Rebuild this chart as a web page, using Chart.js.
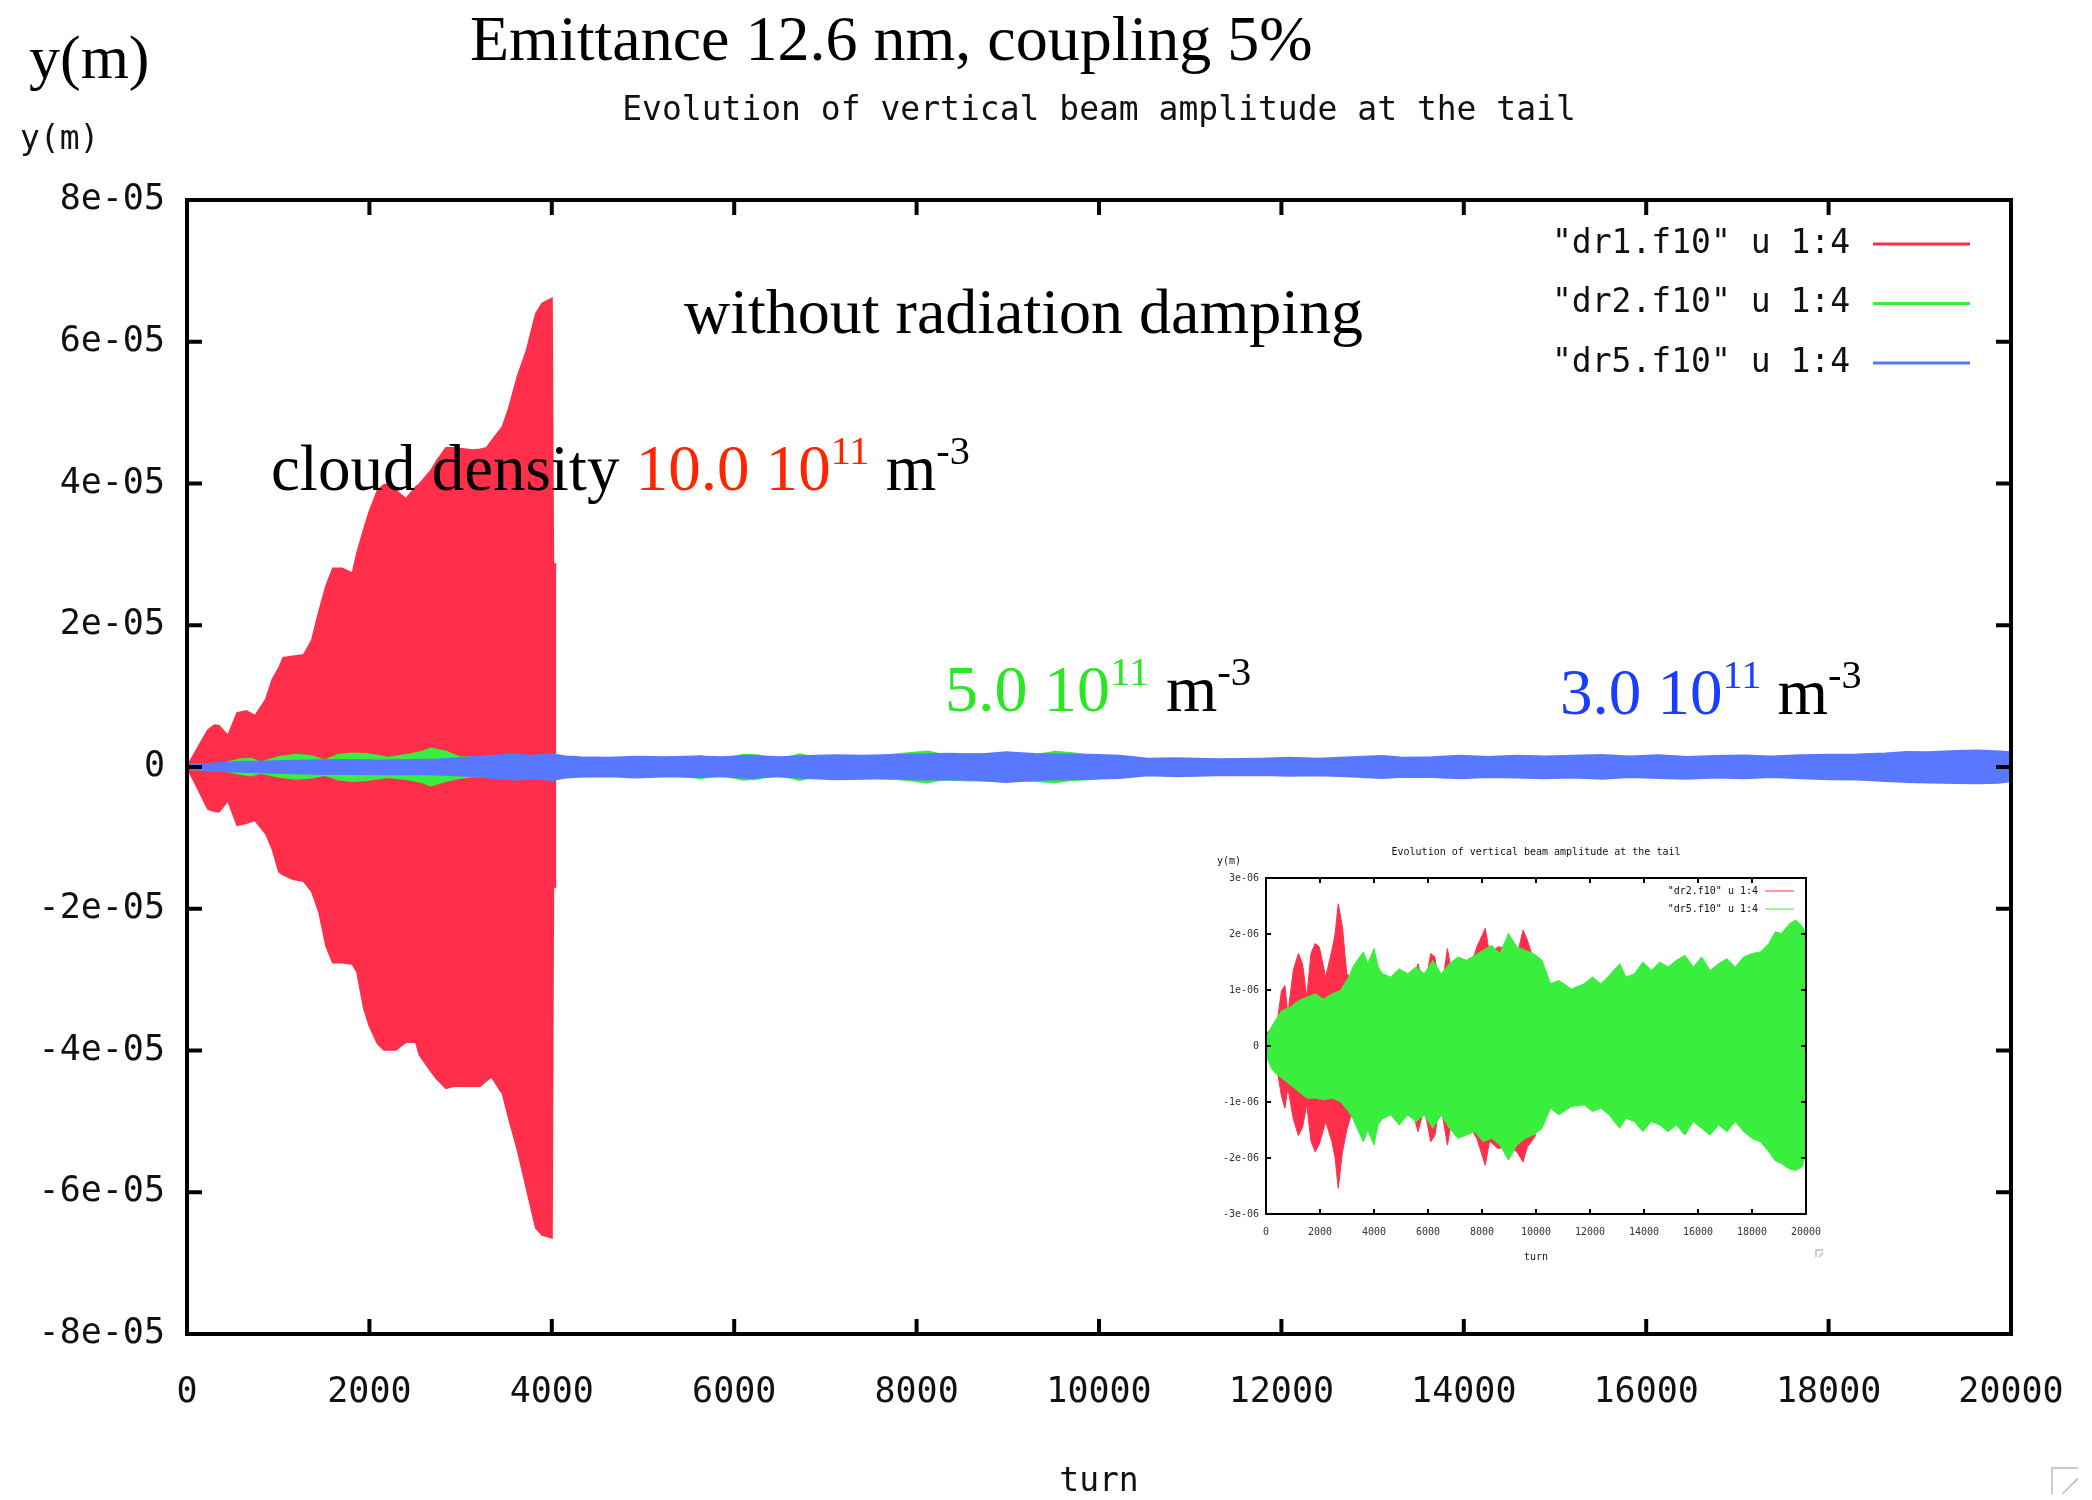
<!DOCTYPE html>
<html>
<head>
<meta charset="utf-8">
<script src="https://cdn.jsdelivr.net/npm/chart.js@4.4.1/dist/chart.umd.min.js"></script>
<style>
  html, body { margin: 0; padding: 0; background: #fff; }
  #main { position: absolute; left: 0; top: 0; }
  #inset { position: absolute; left: 1180px; top: 820px; }
</style>
</head>
<body>
<canvas id="main" width="2092" height="1500"></canvas>
<canvas id="inset" width="680" height="470"></canvas>
<script>
// axis ticks
const xTickValues = [0, 2000, 4000, 6000, 8000, 10000, 12000, 14000, 16000, 18000, 20000];
const xTickLabels = ['0', '2000', '4000', '6000', '8000', '10000', '12000', '14000', '16000', '18000', '20000'];
const yTickValues = [-8e-5, -6e-5, -4e-5, -2e-5, 0, 2e-5, 4e-5, 6e-5, 8e-5];
const yTickLabels = ['-8e-05', '-6e-05', '-4e-05', '-2e-05', '0', '2e-05', '4e-05', '6e-05', '8e-05'];
const insetYTickValues = [-3e-6, -2e-6, -1e-6, 0, 1e-6, 2e-6, 3e-6];
const insetYTickLabels = ['-3e-06', '-2e-06', '-1e-06', '0', '1e-06', '2e-06', '3e-06'];

// envelopes of y (micrometres)
// dr1: 10.0e11 m^-3
const dr1Turns = [0, 110, 230, 300, 350, 450, 550, 650, 745, 865, 935, 1010, 1055, 1160, 1280, 1370, 1450, 1525, 1600, 1700, 1815, 1865, 1940, 2000, 2090, 2160, 2205, 2290, 2400, 2510, 2550, 2675, 2740, 2840, 2925, 3135, 3215, 3285, 3340, 3430, 3460, 3530, 3625, 3725, 3825, 3895, 4000, 4015, 4050];
const dr1Upper = [0, 2.5, 5.2, 5.9, 5.8, 4.4, 7.6, 7.9, 7.2, 9.5, 12.3, 14.0, 15.4, 15.6, 15.8, 17.9, 22.0, 25.5, 28.0, 28.0, 27.3, 30.2, 33.5, 36.0, 39.0, 39.8, 39.9, 39.0, 37.8, 39.5, 39.9, 41.8, 43.2, 45.0, 45.0, 44.7, 44.8, 45.0, 46.0, 47.5, 48.0, 50.6, 55.1, 58.8, 63.9, 65.4, 66.1, 28.6, 28.6];
const dr1Lower = [0, -2.8, -5.9, -6.2, -6.3, -4.7, -8.2, -7.9, -7.5, -9.4, -11.5, -14.8, -15.2, -15.8, -16.1, -17.6, -20.5, -25.2, -27.6, -27.6, -27.8, -28.9, -34.0, -36.5, -39.0, -39.9, -39.9, -39.9, -38.8, -38.8, -40.6, -42.9, -44.0, -45.3, -45.0, -45.0, -45.0, -44.2, -43.7, -45.5, -46.0, -49.6, -54.0, -59.5, -65.0, -66.0, -66.4, -16.9, -16.9];

// dr2: 5.0e11 m^-3
const dr2Turns = [0, 110, 265, 420, 575, 700, 810, 1010, 1200, 1355, 1510, 1665, 1820, 1975, 2210, 2440, 2560, 2675, 2830, 2990, 3145, 3400, 3700, 4000, 4300, 4620, 5090, 5400, 5630, 5865, 6100, 6255, 6410, 6560, 6720, 6880, 7265, 7500, 7810, 8120, 8280, 8590, 8980, 9290, 9520, 9680, 9835, 9990];
const dr2Upper = [0.21, 0.27, 0.20, 0.45, 0.99, 1.08, 0.57, 1.35, 1.65, 1.47, 0.87, 1.65, 1.83, 1.77, 1.23, 1.71, 2.00, 2.54, 2.13, 1.29, 1.23, 1.20, 1.30, 1.35, 1.10, 1.00, 1.32, 1.10, 1.47, 1.00, 1.65, 1.59, 1.05, 1.20, 1.74, 1.29, 1.47, 1.30, 1.77, 2.10, 1.65, 1.77, 1.75, 1.60, 2.07, 1.89, 1.65, 1.59];
const dr2Lower = [-0.15, -0.27, -0.20, -0.45, -0.90, -1.11, -0.75, -1.30, -1.60, -1.45, -1.05, -1.70, -1.89, -1.75, -1.35, -1.71, -2.00, -2.54, -1.90, -1.50, -1.25, -1.20, -1.30, -1.40, -1.10, -1.00, -1.30, -1.10, -1.53, -1.10, -1.71, -1.60, -1.10, -1.30, -1.77, -1.30, -1.50, -1.40, -1.65, -2.13, -1.70, -1.83, -1.80, -1.89, -2.07, -1.80, -1.71, -1.59];

// dr5: 3.0e11 m^-3
const dr5Turns = [0, 190, 340, 575, 890, 1200, 1510, 1820, 2130, 2440, 2750, 3065, 3220, 3375, 3610, 3765, 4000, 4155, 4310, 4620, 4930, 5245, 5555, 5865, 6175, 6490, 6800, 7110, 7420, 7735, 8045, 8355, 8665, 8980, 9290, 9600, 9910, 10225, 10535, 10845, 11310, 11780, 12090, 12400, 12710, 13100, 13335, 13645, 13960, 14270, 14580, 14890, 15200, 15515, 15825, 16135, 16445, 16760, 17070, 17380, 17690, 18005, 18315, 18625, 18860, 19090, 19405, 19635, 19870, 20000];
const dr5Upper = [0.15, 0.33, 0.45, 0.63, 0.69, 0.81, 0.87, 0.93, 0.84, 0.93, 0.99, 1.23, 1.41, 1.53, 1.68, 1.47, 1.74, 1.41, 1.29, 1.23, 1.38, 1.29, 1.41, 1.29, 1.53, 1.29, 1.47, 1.59, 1.53, 1.62, 1.71, 1.80, 1.65, 2.01, 1.77, 1.71, 1.65, 1.53, 1.11, 1.17, 1.02, 1.11, 1.23, 1.11, 1.26, 1.47, 1.23, 1.29, 1.50, 1.35, 1.50, 1.41, 1.53, 1.62, 1.41, 1.59, 1.35, 1.47, 1.56, 1.41, 1.59, 1.65, 1.68, 1.83, 2.04, 2.01, 2.19, 2.25, 2.13, 2.01];
const dr5Lower = [-0.15, -0.39, -0.48, -0.57, -0.69, -0.81, -0.93, -0.93, -0.96, -0.93, -0.99, -1.17, -1.30, -1.47, -1.71, -1.50, -1.77, -1.40, -1.30, -1.23, -1.41, -1.23, -1.35, -1.23, -1.47, -1.23, -1.47, -1.65, -1.59, -1.53, -1.71, -1.65, -1.77, -2.04, -1.77, -1.65, -1.59, -1.47, -1.11, -1.23, -1.08, -1.05, -1.17, -1.11, -1.23, -1.47, -1.29, -1.35, -1.53, -1.35, -1.41, -1.53, -1.41, -1.59, -1.35, -1.47, -1.59, -1.41, -1.53, -1.35, -1.53, -1.65, -1.71, -1.89, -2.05, -2.10, -2.20, -2.22, -2.15, -1.89];

const RED = '#ff2f4b';
const GREEN = '#39ee3d';
const BLUE = '#5878ff';
const MONO = '"DejaVu Sans Mono", monospace';
const SERIF = '"Liberation Serif", "Times New Roman", serif';

const toPoints = (turns, vals) => turns.map((t, i) => ({ x: t, y: vals[i] * 1e-6 }));

// one filled band = upper line filled down to the lower line
const band = (label, turns, upper, lower, color, order, width) => [
    { label: label, data: toPoints(turns, upper), borderColor: color, backgroundColor: color,
      borderWidth: width, fill: '+1', order: order, pointRadius: 0 },
    { label: '', data: toPoints(turns, lower), borderColor: color, backgroundColor: color,
      borderWidth: width, fill: false, order: order, pointRadius: 0 }
];

// draw text with superscripts
function drawRuns(ctx, x, y, size, runs) {
    ctx.textBaseline = 'alphabetic';
    ctx.textAlign = 'left';
    runs.forEach(r => {
        const s = r.sup ? size * 0.62 : size;
        ctx.font = s + 'px ' + SERIF;
        ctx.fillStyle = r.color || '#000';
        ctx.fillText(r.text, x, r.sup ? y - size * 0.40 : y);
        x += ctx.measureText(r.text).width;
    });
}

// small grey resize mark in a corner
function cornerMark(ctx, x, y, s) {
    ctx.strokeStyle = '#bbb';
    ctx.lineWidth = 1.5;
    ctx.beginPath();
    ctx.moveTo(x, y + s); ctx.lineTo(x, y); ctx.lineTo(x + s, y);
    ctx.moveTo(x + s * 0.4, y + s); ctx.lineTo(x + s, y + s * 0.4);
    ctx.stroke();
}

// gnuplot style frame, inward ticks, legend and loose text
function gnuplotFrame(cfg) {
    return {
        id: 'gnuplotFrame',
        afterDatasetsDraw(chart) {
            const ctx = chart.ctx;
            const a = chart.chartArea;
            const xs = chart.scales.x, ys = chart.scales.y;
            ctx.save();
            ctx.strokeStyle = '#000';
            ctx.lineWidth = cfg.border;
            ctx.strokeRect(a.left, a.top, a.right - a.left, a.bottom - a.top);
            ctx.lineWidth = cfg.tickWidth;
            ctx.beginPath();
            xs.ticks.forEach(t => {
                const px = xs.getPixelForValue(t.value);
                ctx.moveTo(px, a.bottom); ctx.lineTo(px, a.bottom - cfg.tickLen);
                ctx.moveTo(px, a.top); ctx.lineTo(px, a.top + cfg.tickLen);
            });
            ys.ticks.forEach(t => {
                const py = ys.getPixelForValue(t.value);
                ctx.moveTo(a.left, py); ctx.lineTo(a.left + cfg.tickLen, py);
                ctx.moveTo(a.right, py); ctx.lineTo(a.right - cfg.tickLen, py);
            });
            ctx.stroke();

            // legend
            ctx.font = cfg.font + 'px ' + MONO;
            ctx.textAlign = 'right';
            ctx.textBaseline = 'middle';
            let row = 0;
            chart.data.datasets.forEach(ds => {
                if (!ds.label) return;
                const y = cfg.legend.y + row * cfg.legend.step;
                ctx.fillStyle = '#111';
                ctx.fillText(ds.label, cfg.legend.textRight, y);
                ctx.strokeStyle = ds.borderColor;
                ctx.lineWidth = cfg.legend.lineWidth;
                ctx.beginPath();
                ctx.moveTo(cfg.legend.x0, y); ctx.lineTo(cfg.legend.x1, y);
                ctx.stroke();
                row++;
            });

            // titles
            ctx.fillStyle = '#111';
            ctx.textAlign = 'center';
            ctx.fillText(cfg.title, (a.left + a.right) / 2, cfg.titleY);
            ctx.fillText('turn', (a.left + a.right) / 2, cfg.turnY);
            ctx.textAlign = 'left';
            ctx.fillText('y(m)', cfg.ymX, cfg.ymY);
            if (cfg.extra) cfg.extra(ctx);
            ctx.restore();
        }
    };
}

const mainTickFont = { family: MONO, size: 35 };
const insetTickFont = { family: MONO, size: 10 };

// keep the plot box where the layout padding puts it
const noLabelOverhang = s => { s.paddingLeft = 0; s.paddingRight = 0; };

// main chart
new Chart(document.getElementById('main').getContext('2d'), {
    type: 'line',
    data: {
        datasets: [
            ...band('"dr1.f10" u 1:4', dr1Turns, dr1Upper, dr1Lower, RED, 3, 2),
            ...band('"dr2.f10" u 1:4', dr2Turns, dr2Upper, dr2Lower, GREEN, 2, 3),
            ...band('"dr5.f10" u 1:4', dr5Turns, dr5Upper, dr5Lower, BLUE, 1, 3)
        ]
    },
    options: {
        responsive: false,
        animation: false,
        devicePixelRatio: 1,
        layout: { padding: { top: 200, right: 81, left: 0, bottom: 0 } },
        plugins: { legend: { display: false }, tooltip: { enabled: false }, title: { display: false } },
        elements: { line: { tension: 0 } },
        scales: {
            x: {
                type: 'linear', min: 0, max: 20000,
                afterBuildTicks: s => { s.ticks = xTickValues.map(v => ({ value: v })); },
                afterFit: s => { s.height = 166; noLabelOverhang(s); },
                grid: { display: false, drawTicks: false },
                border: { display: false },
                ticks: { callback: (v, i) => xTickLabels[i], font: mainTickFont, color: '#111',
                         padding: 38, maxRotation: 0, autoSkip: false }
            },
            y: {
                type: 'linear', min: -8e-5, max: 8e-5,
                afterBuildTicks: s => { s.ticks = yTickValues.map(v => ({ value: v })); },
                afterFit: s => { s.width = 187; },
                grid: { display: false, drawTicks: false },
                border: { display: false },
                ticks: { callback: (v, i) => yTickLabels[i], font: mainTickFont, color: '#111',
                         padding: 22, autoSkip: false }
            }
        }
    },
    plugins: [gnuplotFrame({
        border: 4, tickWidth: 4, tickLen: 15, font: 33,
        title: 'Evolution of vertical beam amplitude at the tail', titleY: 111, turnY: 1482,
        ymX: 20, ymY: 140,
        legend: { y: 244, step: 59.5, textRight: 1850, x0: 1873, x1: 1970, lineWidth: 3 },
        extra: ctx => {
            drawRuns(ctx, 29, 78, 62, [{ text: 'y(m)' }]);
            drawRuns(ctx, 470, 60, 64, [{ text: 'Emittance 12.6 nm, coupling 5%' }]);
            drawRuns(ctx, 684, 333, 64, [{ text: 'without radiation damping' }]);
            drawRuns(ctx, 271, 490, 65, [
                { text: 'cloud density ' }, { text: '10.0 10', color: '#ff2400' },
                { text: '11', color: '#ff2400', sup: true }, { text: ' m' }, { text: '-3', sup: true }
            ]);
            drawRuns(ctx, 945, 711, 66, [
                { text: '5.0 10', color: '#2be625' }, { text: '11', color: '#2be625', sup: true },
                { text: ' m' }, { text: '-3', sup: true }
            ]);
            drawRuns(ctx, 1560, 714, 65, [
                { text: '3.0 10', color: '#1a3dff' }, { text: '11', color: '#1a3dff', sup: true },
                { text: ' m' }, { text: '-3', sup: true }
            ]);
            cornerMark(ctx, 2052, 1468, 26);
        }
    })]
});

// inset chart: dr2 and dr5 without the large cloud
new Chart(document.getElementById('inset').getContext('2d'), {
    type: 'line',
    data: {
        datasets: [
            ...band('"dr2.f10" u 1:4', dr2Turns, dr2Upper, dr2Lower, RED, 2, 1),
            ...band('"dr5.f10" u 1:4', dr5Turns, dr5Upper, dr5Lower, GREEN, 1, 1)
        ]
    },
    options: {
        responsive: false,
        animation: false,
        devicePixelRatio: 1,
        layout: { padding: { top: 58, right: 54, left: 0, bottom: 0 } },
        plugins: { legend: { display: false }, tooltip: { enabled: false }, title: { display: false } },
        elements: { line: { tension: 0 } },
        scales: {
            x: {
                type: 'linear', min: 0, max: 20000,
                afterBuildTicks: s => { s.ticks = xTickValues.map(v => ({ value: v })); },
                afterFit: s => { s.height = 76; noLabelOverhang(s); },
                grid: { display: false, drawTicks: false },
                border: { display: false },
                ticks: { callback: (v, i) => xTickLabels[i], font: insetTickFont, color: '#333',
                         padding: 12, maxRotation: 0, autoSkip: false }
            },
            y: {
                type: 'linear', min: -3e-6, max: 3e-6,
                afterBuildTicks: s => { s.ticks = insetYTickValues.map(v => ({ value: v })); },
                afterFit: s => { s.width = 86; },
                grid: { display: false, drawTicks: false },
                border: { display: false },
                ticks: { callback: (v, i) => insetYTickLabels[i], font: insetTickFont, color: '#333',
                         padding: 7, autoSkip: false }
            }
        }
    },
    plugins: [gnuplotFrame({
        border: 2, tickWidth: 2, tickLen: 5, font: 10,
        title: 'Evolution of vertical beam amplitude at the tail', titleY: 32, turnY: 437,
        ymX: 37, ymY: 41,
        legend: { y: 71, step: 18, textRight: 578, x0: 585, x1: 614, lineWidth: 1 },
        extra: ctx => { cornerMark(ctx, 636, 430, 7); }
    })]
});
</script>
</body>
</html>
